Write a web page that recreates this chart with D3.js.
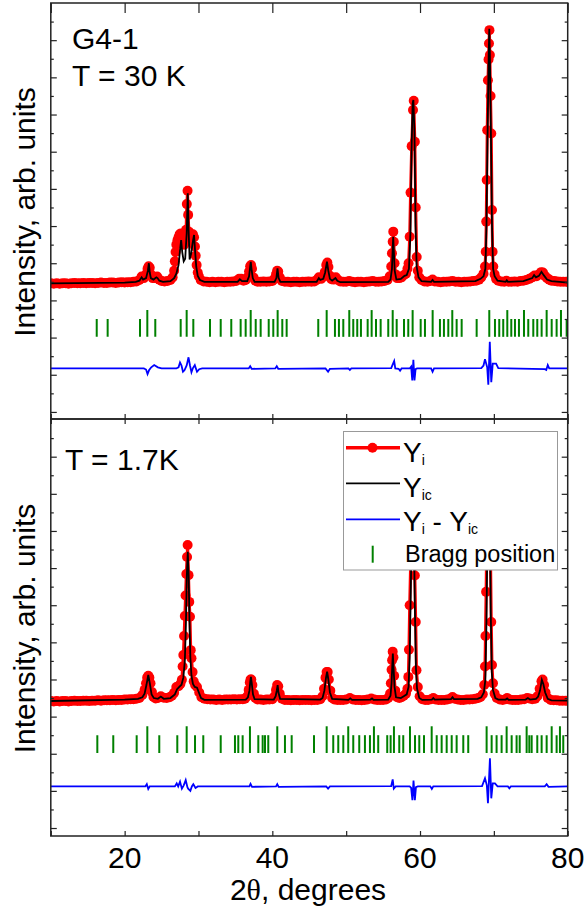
<!DOCTYPE html>
<html><head><meta charset="utf-8">
<script src="https://cdn.jsdelivr.net/npm/d3@7"></script>
<style>body{margin:0;background:#fff}svg{display:block}text{font-family:"Liberation Sans",Arial,sans-serif}</style>
</head><body>
<script>
// ---------------- DATA ----------------
const xLabelTicks = [20, 40, 60, 80];
const xMinorTicks = [10, 30, 50, 70];
const panelLabelsTop = ["G4-1", "T = 30 K"];
const panelLabelsBottom = ["T = 1.7K"];
const legendLabels = ["Yi", "Yic", "Yi - Yic", "Bragg position"];

// Top panel (T = 30 K): observed Yi  [2θ, intensity]
const obsTop = [[10.0,3.46],[10.4,3.45],[10.8,3.46],[11.2,3.45],[11.6,3.46],[12.0,3.46],[12.4,3.45],[12.8,3.46],[13.2,3.47],[13.6,3.46],[14.0,3.46],[14.4,3.47],[14.8,3.46],[15.2,3.47],[15.6,3.47],[16.0,3.46],[16.4,3.47],[16.8,3.48],[17.2,3.47],[17.6,3.47],[18.0,3.48],[18.4,3.48],[18.8,3.47],[19.2,3.48],[19.6,3.49],[20.0,3.48],[20.4,3.49],[20.8,3.49],[21.2,3.5],[21.6,3.51],[22.0,3.55],[22.3,3.64],[22.6,3.6],[22.9,3.7],[23.1,3.85],[23.25,3.92],[23.4,3.88],[23.55,3.7],[23.8,3.6],[24.1,3.6],[24.4,3.64],[24.7,3.56],[25.0,3.52],[25.4,3.51],[25.8,3.52],[26.2,3.55],[26.5,3.62],[26.7,3.8],[26.8,4.05],[26.9,4.3],[27.0,4.5],[27.15,4.62],[27.3,4.7],[27.45,4.78],[27.6,4.8],[27.75,4.7],[27.9,4.55],[28.05,4.5],[28.2,4.6],[28.32,4.9],[28.42,5.59],[28.52,5.95],[28.6,5.3],[28.7,4.85],[28.82,4.65],[28.95,4.6],[29.1,4.7],[29.25,4.78],[29.4,4.7],[29.52,4.45],[29.62,4.2],[29.75,3.95],[29.9,3.75],[30.05,3.65],[30.3,3.55],[30.7,3.51],[31.1,3.5],[31.5,3.49],[31.9,3.5],[32.3,3.49],[32.7,3.5],[33.1,3.5],[33.5,3.49],[33.9,3.5],[34.3,3.5],[34.7,3.51],[35.1,3.52],[35.5,3.58],[35.8,3.58],[36.1,3.53],[36.4,3.55],[36.65,3.62],[36.85,3.78],[37.0,3.92],[37.12,3.95],[37.25,3.85],[37.45,3.62],[37.7,3.53],[38.0,3.5],[38.4,3.5],[38.8,3.51],[39.2,3.5],[39.6,3.51],[40.0,3.52],[40.3,3.58],[40.5,3.7],[40.65,3.8],[40.8,3.78],[41.0,3.62],[41.3,3.52],[41.7,3.5],[42.1,3.5],[42.5,3.49],[42.9,3.5],[43.3,3.5],[43.7,3.49],[44.1,3.5],[44.5,3.5],[44.9,3.51],[45.3,3.5],[45.7,3.51],[46.0,3.55],[46.3,3.62],[46.6,3.58],[46.9,3.63],[47.1,3.76],[47.3,3.95],[47.45,4.02],[47.6,3.9],[47.8,3.66],[48.0,3.57],[48.3,3.56],[48.6,3.62],[48.9,3.55],[49.2,3.51],[49.6,3.5],[50.0,3.5],[50.4,3.52],[50.8,3.5],[51.2,3.49],[51.6,3.5],[52.0,3.5],[52.4,3.49],[52.8,3.5],[53.2,3.51],[53.6,3.52],[54.0,3.5],[54.4,3.5],[54.8,3.51],[55.2,3.52],[55.6,3.55],[55.9,3.65],[56.1,3.91],[56.2,4.27],[56.3,4.58],[56.38,4.85],[56.45,4.58],[56.55,4.0],[56.7,3.7],[56.9,3.6],[57.2,3.6],[57.5,3.62],[57.8,3.68],[58.1,3.72],[58.3,3.85],[58.45,4.0],[58.6,4.71],[58.72,5.9],[58.87,7.15],[59.05,8.12],[59.15,8.37],[59.3,7.27],[59.42,5.5],[59.55,4.17],[59.7,3.8],[59.9,3.62],[60.2,3.55],[60.6,3.51],[61.0,3.5],[61.4,3.52],[61.7,3.56],[62.0,3.51],[62.4,3.5],[62.8,3.49],[63.2,3.5],[63.6,3.5],[64.0,3.51],[64.4,3.52],[64.8,3.5],[65.2,3.5],[65.6,3.49],[66.0,3.5],[66.4,3.5],[66.8,3.51],[67.2,3.52],[67.6,3.53],[68.0,3.56],[68.3,3.62],[68.6,3.72],[68.8,3.91],[68.9,4.31],[68.97,5.12],[69.03,6.24],[69.1,7.58],[69.2,8.92],[69.28,9.48],[69.34,9.91],[69.4,10.27],[69.46,9.6],[69.55,8.5],[69.65,7.49],[69.75,5.43],[69.83,4.31],[69.92,3.91],[70.1,3.7],[70.3,3.58],[70.6,3.53],[71.0,3.51],[71.4,3.5],[71.7,3.53],[72.0,3.5],[72.4,3.5],[72.8,3.51],[73.2,3.5],[73.6,3.52],[74.0,3.53],[74.4,3.55],[74.8,3.58],[75.2,3.62],[75.5,3.67],[75.8,3.65],[76.1,3.7],[76.4,3.76],[76.65,3.75],[76.9,3.66],[77.2,3.6],[77.5,3.56],[77.8,3.53],[78.2,3.52],[78.6,3.51],[79.0,3.5],[79.4,3.5],[79.8,3.5],[80.0,3.5]];

// Top panel: calculated Yic
const calcTop = [[10,3.46],[20,3.48],[21.5,3.5],[22.0,3.53],[22.3,3.62],[22.5,3.56],[22.9,3.6],[23.15,3.8],[23.28,4.0],[23.4,3.75],[23.55,3.6],[23.9,3.56],[24.3,3.62],[24.45,3.6],[24.7,3.53],[25.2,3.5],[26.2,3.52],[26.7,3.6],[27.0,3.72],[27.3,3.95],[27.5,4.35],[27.65,4.62],[27.8,4.3],[28.0,4.05],[28.2,4.12],[28.4,4.8],[28.55,5.88],[28.66,4.9],[28.8,4.1],[29.0,4.25],[29.25,4.6],[29.4,4.76],[29.55,4.3],[29.7,3.9],[29.9,3.66],[30.2,3.55],[30.8,3.5],[35.3,3.5],[35.6,3.57],[35.9,3.52],[36.6,3.52],[36.85,3.65],[37.0,3.9],[37.08,4.04],[37.18,3.85],[37.35,3.6],[37.6,3.5],[40.3,3.5],[40.55,3.6],[40.7,3.86],[40.85,3.6],[41.1,3.5],[46.0,3.5],[46.3,3.6],[46.5,3.55],[46.9,3.58],[47.15,3.75],[47.4,4.04],[47.58,3.8],[47.8,3.58],[48.1,3.53],[48.55,3.6],[48.8,3.53],[49.2,3.49],[55.7,3.5],[56.0,3.56],[56.2,3.85],[56.3,4.4],[56.37,4.71],[56.45,4.35],[56.57,3.8],[56.8,3.56],[57.4,3.58],[57.9,3.66],[58.2,3.68],[58.5,3.85],[58.7,4.8],[58.85,7.0],[59.0,8.3],[59.1,8.39],[59.25,7.5],[59.4,5.0],[59.55,3.9],[59.8,3.62],[60.2,3.52],[61.5,3.5],[61.7,3.55],[61.9,3.5],[67.5,3.52],[68.2,3.58],[68.6,3.65],[68.85,3.85],[69.0,5.0],[69.15,7.5],[69.3,9.6],[69.38,10.31],[69.46,9.6],[69.6,7.5],[69.75,5.0],[69.9,3.85],[70.1,3.65],[70.5,3.53],[71.6,3.5],[71.75,3.54],[71.9,3.5],[74.0,3.52],[75.2,3.6],[75.45,3.68],[75.7,3.62],[76.1,3.66],[76.45,3.77],[76.75,3.68],[77.2,3.56],[77.8,3.52],[80,3.48]];

// Top panel: difference Yi - Yic (offset)
const diffTop = [[10,1.17],[22.6,1.17],[22.9,1.14],[23.1,1.02],[23.3,1.12],[23.6,1.2],[24.0,1.26],[24.5,1.2],[25.0,1.17],[27.0,1.17],[27.3,1.2],[27.5,1.33],[27.7,1.25],[27.9,1.08],[28.1,1.12],[28.4,1.25],[28.65,1.47],[28.85,1.25],[29.05,1.07],[29.25,1.18],[29.5,1.26],[29.8,1.08],[30.1,1.15],[30.5,1.17],[36.8,1.17],[37.0,1.23],[37.2,1.16],[40.4,1.17],[40.6,1.23],[40.8,1.16],[47.2,1.17],[47.55,1.08],[47.8,1.16],[50.3,1.17],[50.5,1.13],[50.7,1.17],[56.1,1.18],[56.35,1.3],[56.5,1.37],[56.65,1.17],[57.1,1.16],[57.3,1.11],[57.5,1.17],[58.6,1.17],[58.8,1.22],[58.95,0.85],[59.1,1.4],[59.25,0.85],[59.4,1.15],[59.6,1.17],[61.5,1.17],[61.7,1.08],[61.9,1.17],[68.3,1.18],[68.6,1.25],[68.8,1.42],[69.1,1.2],[69.25,0.73],[69.45,1.89],[69.65,0.8],[69.85,1.3],[70.3,1.3],[70.6,1.18],[76.9,1.15],[77.1,1.13],[77.3,1.26],[77.5,1.17],[80,1.17]];

// Top panel Bragg positions (short) and strong reflections (tall)
const braggTop = [16.22,17.70,22.08,24.15,27.59,29.30,31.56,33.01,34.44,35.71,36.39,37.75,38.42,39.51,40.13,41.35,41.94,46.22,48.48,49.02,49.61,50.96,51.5,52.0,52.91,54.04,54.67,55.70,56.84,57.83,58.41,60.09,60.67,62.70,63.24,63.83,64.96,65.64,67.67,70.15,70.73,71.27,72.36,72.86,73.40,74.66,75.34,75.88,76.47,77.83,78.50,79.86];
const braggTopStrong = [23.07,28.40,37.07,40.72,47.36,50.42,53.45,56.30,59.00,61.71,64.37,69.38,71.82,74.08,77.15,79.09];

// Bottom panel (T = 1.7 K)
const obsBottom = [[10.0,3.42],[10.4,3.41],[10.8,3.42],[11.2,3.41],[11.6,3.42],[12.0,3.42],[12.4,3.41],[12.8,3.42],[13.2,3.43],[13.6,3.42],[14.0,3.42],[14.4,3.43],[14.8,3.43],[15.2,3.42],[15.6,3.43],[16.0,3.43],[16.4,3.44],[16.8,3.43],[17.2,3.44],[17.6,3.44],[18.0,3.44],[18.4,3.45],[18.8,3.44],[19.2,3.45],[19.6,3.45],[20.0,3.46],[20.4,3.46],[20.8,3.47],[21.2,3.47],[21.6,3.48],[22.0,3.5],[22.4,3.58],[22.7,3.72],[22.9,3.9],[23.05,4.05],[23.2,4.1],[23.35,4.05],[23.5,3.9],[23.7,3.66],[23.9,3.53],[24.2,3.49],[24.5,3.5],[24.9,3.55],[25.3,3.51],[25.7,3.5],[26.1,3.52],[26.4,3.56],[26.7,3.64],[27.0,3.8],[27.3,3.82],[27.55,3.88],[27.75,3.99],[27.85,4.35],[27.95,4.66],[28.05,5.17],[28.15,5.71],[28.25,6.26],[28.35,6.84],[28.45,7.3],[28.53,7.62],[28.65,6.81],[28.75,6.09],[28.85,5.69],[28.95,4.79],[29.05,4.57],[29.2,4.2],[29.35,3.95],[29.55,3.85],[29.8,3.8],[30.1,3.65],[30.4,3.52],[30.8,3.48],[31.2,3.47],[31.6,3.46],[32.0,3.46],[32.4,3.45],[32.8,3.46],[33.2,3.45],[33.6,3.46],[34.0,3.46],[34.4,3.46],[34.8,3.47],[35.2,3.46],[35.6,3.47],[36.0,3.47],[36.3,3.48],[36.6,3.55],[36.8,3.72],[36.95,3.92],[37.05,4.0],[37.15,4.0],[37.3,3.85],[37.5,3.62],[37.7,3.5],[38.0,3.46],[38.4,3.46],[38.8,3.45],[39.2,3.46],[39.6,3.46],[40.0,3.47],[40.3,3.55],[40.5,3.72],[40.65,3.85],[40.8,3.82],[41.0,3.62],[41.3,3.48],[41.7,3.45],[42.1,3.45],[42.5,3.44],[42.9,3.45],[43.3,3.45],[43.7,3.44],[44.1,3.45],[44.5,3.45],[44.9,3.45],[45.3,3.44],[45.7,3.45],[46.1,3.45],[46.5,3.47],[46.8,3.55],[47.0,3.75],[47.2,4.05],[47.35,4.2],[47.5,4.2],[47.65,4.0],[47.85,3.7],[48.1,3.5],[48.4,3.46],[48.8,3.45],[49.2,3.45],[49.6,3.45],[50.0,3.46],[50.5,3.5],[50.9,3.46],[51.3,3.45],[51.7,3.45],[52.1,3.44],[52.5,3.45],[52.9,3.46],[53.4,3.49],[53.8,3.46],[54.2,3.45],[54.6,3.45],[55.0,3.45],[55.4,3.46],[55.7,3.5],[55.95,3.62],[56.05,3.9],[56.15,4.26],[56.22,4.52],[56.3,4.75],[56.4,4.6],[56.5,4.1],[56.65,3.7],[56.9,3.52],[57.2,3.5],[57.5,3.52],[57.8,3.56],[58.1,3.62],[58.3,3.75],[58.42,4.07],[58.5,4.8],[58.6,6.0],[58.75,7.3],[58.95,8.8],[59.15,8.6],[59.3,6.8],[59.42,5.55],[59.52,4.25],[59.7,3.8],[59.95,3.55],[60.3,3.47],[60.7,3.45],[61.1,3.45],[61.5,3.47],[61.8,3.5],[62.1,3.46],[62.5,3.45],[62.9,3.45],[63.3,3.45],[63.7,3.46],[64.1,3.48],[64.4,3.53],[64.7,3.48],[65.1,3.46],[65.5,3.45],[65.9,3.45],[66.3,3.46],[66.7,3.46],[67.1,3.47],[67.5,3.48],[67.9,3.5],[68.2,3.53],[68.5,3.6],[68.7,3.85],[68.8,4.35],[68.86,5.17],[68.95,6.36],[69.08,8.5],[69.25,9.9],[69.4,9.7],[69.52,7.8],[69.65,5.55],[69.75,4.39],[69.88,3.9],[70.1,3.62],[70.4,3.5],[70.8,3.46],[71.2,3.45],[71.6,3.47],[71.8,3.5],[72.1,3.46],[72.5,3.45],[72.9,3.45],[73.3,3.45],[73.7,3.46],[74.1,3.47],[74.5,3.5],[74.8,3.49],[75.2,3.47],[75.6,3.48],[75.9,3.55],[76.2,3.75],[76.45,3.95],[76.6,4.0],[76.8,3.85],[77.0,3.65],[77.3,3.5],[77.7,3.45],[78.1,3.44],[78.5,3.44],[78.9,3.43],[79.3,3.43],[79.7,3.43],[80.0,3.43]];

const calcBottom = [[10,3.42],[20,3.46],[21.8,3.48],[22.4,3.52],[22.7,3.62],[22.95,3.85],[23.2,4.12],[23.42,3.88],[23.65,3.6],[23.95,3.5],[24.5,3.48],[24.9,3.54],[25.3,3.48],[26.2,3.5],[26.8,3.6],[27.1,3.74],[27.4,3.8],[27.7,3.86],[27.95,4.05],[28.15,4.5],[28.3,5.5],[28.42,6.8],[28.55,7.44],[28.67,6.8],[28.78,5.6],[28.9,4.6],[29.05,4.1],[29.25,3.88],[29.5,3.8],[29.8,3.78],[30.05,3.65],[30.35,3.5],[30.8,3.45],[36.4,3.46],[36.7,3.52],[36.9,3.7],[37.02,3.95],[37.1,4.07],[37.2,3.92],[37.38,3.6],[37.6,3.47],[40.2,3.46],[40.45,3.55],[40.6,3.7],[40.72,3.85],[40.83,3.65],[41.05,3.48],[46.5,3.46],[46.8,3.5],[47.05,3.7],[47.27,4.05],[47.42,4.21],[47.57,4.02],[47.8,3.65],[48.1,3.48],[50.3,3.45],[50.55,3.49],[50.8,3.45],[53.3,3.46],[53.5,3.49],[53.7,3.45],[55.7,3.46],[56.0,3.56],[56.15,3.9],[56.25,4.4],[56.32,4.7],[56.42,4.3],[56.55,3.8],[56.75,3.52],[57.4,3.5],[57.8,3.55],[58.2,3.6],[58.45,3.8],[58.6,4.6],[58.75,6.4],[58.9,8.3],[59.02,8.9],[59.15,8.3],[59.3,6.0],[59.45,4.3],[59.6,3.75],[59.9,3.5],[60.3,3.45],[61.6,3.46],[61.8,3.5],[62.0,3.46],[64.2,3.47],[64.4,3.52],[64.6,3.47],[67.8,3.48],[68.3,3.52],[68.65,3.65],[68.85,4.0],[69.0,5.6],[69.15,8.2],[69.3,10.0],[69.45,8.4],[69.58,5.8],[69.72,4.2],[69.88,3.72],[70.2,3.5],[70.6,3.46],[71.6,3.46],[71.8,3.49],[72.0,3.45],[74.3,3.46],[74.6,3.5],[74.9,3.46],[75.7,3.48],[76.0,3.54],[76.25,3.7],[76.5,3.99],[76.7,3.88],[76.95,3.65],[77.3,3.48],[77.8,3.44],[80,3.43]];

const diffBottom = [[10,1.12],[22.8,1.12],[23.0,1.18],[23.2,1.05],[23.4,1.12],[26.8,1.12],[27.05,1.2],[27.25,1.12],[27.5,1.25],[27.75,1.06],[28.0,1.15],[28.27,1.29],[28.5,1.1],[28.6,1.06],[28.9,1.0],[29.1,1.12],[29.3,1.18],[29.6,1.08],[29.9,1.12],[36.9,1.12],[37.05,1.19],[37.25,1.11],[40.5,1.12],[40.67,1.18],[40.85,1.11],[47.3,1.12],[47.55,1.06],[47.8,1.12],[56.1,1.13],[56.3,1.31],[56.45,1.06],[56.7,1.12],[58.6,1.12],[58.8,1.08],[58.97,0.75],[59.12,1.28],[59.3,0.75],[59.45,1.1],[59.7,1.12],[61.4,1.12],[61.6,1.05],[61.8,1.12],[68.4,1.13],[68.8,1.34],[69.05,1.15],[69.2,0.67],[69.47,1.88],[69.65,0.8],[69.85,1.2],[70.15,1.2],[70.5,1.12],[71.9,1.12],[72.1,1.07],[72.3,1.12],[76.9,1.12],[77.15,1.18],[77.4,1.11],[80,1.12]];

const braggBottom = [16.30,18.46,21.63,24.69,27.13,29.53,30.65,33.01,34.94,35.39,35.98,38.10,38.69,39.01,39.45,41.71,42.62,45.64,48.25,48.93,49.61,50.96,51.77,52.54,53.22,54.34,55.56,56.02,57.19,57.73,59.32,59.90,60.54,62.26,62.93,63.61,64.29,64.96,65.86,66.53,69.70,70.37,71.05,72.41,73.08,73.50,74.80,75.12,75.88,76.47,77.15,78.50,79.4];
const braggBottomStrong = [23.07,28.40,36.97,40.67,47.36,50.28,53.76,56.47,58.64,61.58,69.02,71.73,74.44,77.83,78.95];

// ---------------- DRAW ----------------
const W = 585, H = 911;
const svg = d3.select("body").append("svg").attr("width", W).attr("height", H);
const x = d3.scaleLinear().domain([10, 80]).range([50.8, 567.7]);

const panels = [
  {obs: obsTop, calc: calcTop, diff: diffTop, bragg: braggTop, strong: braggTopStrong,
   y: d3.scaleLinear().domain([-0.19, 11.0]).range([419, 3]), top: 3, bot: 419, id: "t"},
  {obs: obsBottom, calc: calcBottom, diff: diffBottom, bragg: braggBottom, strong: braggBottomStrong,
   y: d3.scaleLinear().domain([-0.215, 11.015]).range([836, 419]), top: 419, bot: 836, id: "b"}
];

const defs = svg.append("defs");
panels.forEach((p, i) => {
  defs.append("clipPath").attr("id", "clip" + p.id).append("rect")
    .attr("x", x(10)).attr("y", p.top).attr("width", x(80) - x(10)).attr("height", p.bot - p.top);
  const g = svg.append("g").attr("clip-path", `url(#clip${p.id})`);
  const line = d3.line().x(d => x(d[0])).y(d => p.y(d[1]));

  // observed: line + dots
  g.append("path").datum(p.obs).attr("d", line).attr("fill", "none").attr("stroke", "#ff0000").attr("stroke-width", 3);
  g.selectAll("circle.o").data(p.obs).join("circle").attr("class", "o")
    .attr("cx", d => x(d[0])).attr("cy", d => p.y(d[1])).attr("r", 5).attr("fill", "#ff0000");
  // calculated
  g.append("path").datum(p.calc).attr("d", line).attr("fill", "none").attr("stroke", "#000").attr("stroke-width", 1.8);
  // Bragg
  g.selectAll("line.bs").data(p.bragg).join("line").attr("class", "bs")
    .attr("x1", d => x(d)).attr("x2", d => x(d)).attr("y1", p.y(2.02)).attr("y2", p.y(2.5))
    .attr("stroke", "#008000").attr("stroke-width", 2);
  g.selectAll("line.bt").data(p.strong).join("line").attr("class", "bt")
    .attr("x1", d => x(d)).attr("x2", d => x(d)).attr("y1", p.y(2.02)).attr("y2", p.y(2.74))
    .attr("stroke", "#008000").attr("stroke-width", 2);
  // difference
  g.append("path").datum(p.diff).attr("d", line).attr("fill", "none").attr("stroke", "#0000ff").attr("stroke-width", 1.8);

  // axes (inward ticks, no labels)
  const yMajor = d3.range(0, 10.01, 1), yMinor = d3.range(0.5, 10.6, 1);
  const ax = svg.append("g").attr("class", "axes");
  const mk = (axis, tr) => ax.append("g").attr("transform", tr).call(axis).call(s => s.select(".domain").remove());
  mk(d3.axisLeft(p.y).tickValues(yMajor).tickSize(-6).tickFormat(""), `translate(${x(10)},0)`);
  mk(d3.axisLeft(p.y).tickValues(yMinor).tickSize(-3).tickFormat(""), `translate(${x(10)},0)`);
  mk(d3.axisRight(p.y).tickValues(yMajor).tickSize(-6).tickFormat(""), `translate(${x(80)},0)`);
  mk(d3.axisRight(p.y).tickValues(yMinor).tickSize(-3).tickFormat(""), `translate(${x(80)},0)`);
  const topLen = i === 0 ? 10 : 5;
  mk(d3.axisTop(x).tickValues(xLabelTicks.concat(xMinorTicks)).tickSize(-topLen).tickFormat(""), `translate(0,${p.top})`);
  mk(d3.axisBottom(x).tickValues(xLabelTicks.concat(xMinorTicks)).tickSize(-5).tickFormat(""), `translate(0,${p.bot})`);
  ax.selectAll("line").attr("stroke", "#222").attr("stroke-width", 1.2);
  svg.append("rect").attr("x", x(10)).attr("y", p.top).attr("width", x(80) - x(10)).attr("height", p.bot - p.top)
    .attr("fill", "none").attr("stroke", "#222").attr("stroke-width", 1.5);

  // y title
  const cy = (p.top + p.bot) / 2 + 1;
  svg.append("text").attr("transform", `translate(35,${cy}) rotate(-90)`).attr("text-anchor", "middle")
    .attr("font-size", 30).text("Intensity, arb. units");
});

// panel annotations
svg.append("text").attr("x", 72).attr("y", 48.5).attr("font-size", 30).text(panelLabelsTop[0]);
svg.append("text").attr("x", 72).attr("y", 85.7).attr("font-size", 30).text(panelLabelsTop[1]);
svg.append("text").attr("x", 65).attr("y", 470).attr("font-size", 30).text(panelLabelsBottom[0]);

// x tick labels
svg.selectAll("text.xt").data(xLabelTicks).join("text").attr("class", "xt")
  .attr("x", d => x(d)).attr("y", 868).attr("text-anchor", "middle").attr("font-size", 30).text(d => d);
// x title
const xt = svg.append("text").attr("x", 308).attr("y", 900).attr("text-anchor", "middle").attr("font-size", 30);
xt.append("tspan").text("2");
xt.append("tspan").attr("font-family", "'Liberation Serif','Times New Roman',serif").text("θ");
xt.append("tspan").text(", degrees");

// legend
const lg = svg.append("g");
lg.append("rect").attr("x", 343.5).attr("y", 431.5).attr("width", 214).attr("height", 138.5)
  .attr("fill", "#fff").attr("stroke", "#999").attr("stroke-width", 1);
const rows = [447.7, 483.3, 519.3];
lg.append("line").attr("x1", 346).attr("x2", 400).attr("y1", rows[0]).attr("y2", rows[0]).attr("stroke", "#ff0000").attr("stroke-width", 3.5);
lg.append("circle").attr("cx", 372.5).attr("cy", rows[0]).attr("r", 5).attr("fill", "#ff0000");
lg.append("line").attr("x1", 346).attr("x2", 400).attr("y1", rows[1]).attr("y2", rows[1]).attr("stroke", "#000").attr("stroke-width", 1.8);
lg.append("line").attr("x1", 346).attr("x2", 400).attr("y1", rows[2]).attr("y2", rows[2]).attr("stroke", "#0000ff").attr("stroke-width", 1.8);
lg.append("line").attr("x1", 372.7).attr("x2", 372.7).attr("y1", 545.7).attr("y2", 562.7).attr("stroke", "#008000").attr("stroke-width", 2);

function yLabel(yBase, parts) {
  const t = lg.append("text").attr("x", 403).attr("y", yBase).attr("font-size", 28);
  let down = false;
  parts.forEach(([s, sub]) => {
    if (sub) { t.append("tspan").attr("font-size", 14).attr("dy", 3).text(s); down = true; }
    else { t.append("tspan").attr("dy", down ? -3 : 0).text(s); down = false; }
  });
}
yLabel(461.7, [["Y", false], ["i", true]]);
yLabel(496.7, [["Y", false], ["ic", true]]);
yLabel(530.5, [["Y", false], ["i", true], [" - Y", false], ["ic", true]]);
lg.append("text").attr("x", 405).attr("y", 562).attr("font-size", 23.5).text(legendLabels[3]);
</script>
</body></html>
